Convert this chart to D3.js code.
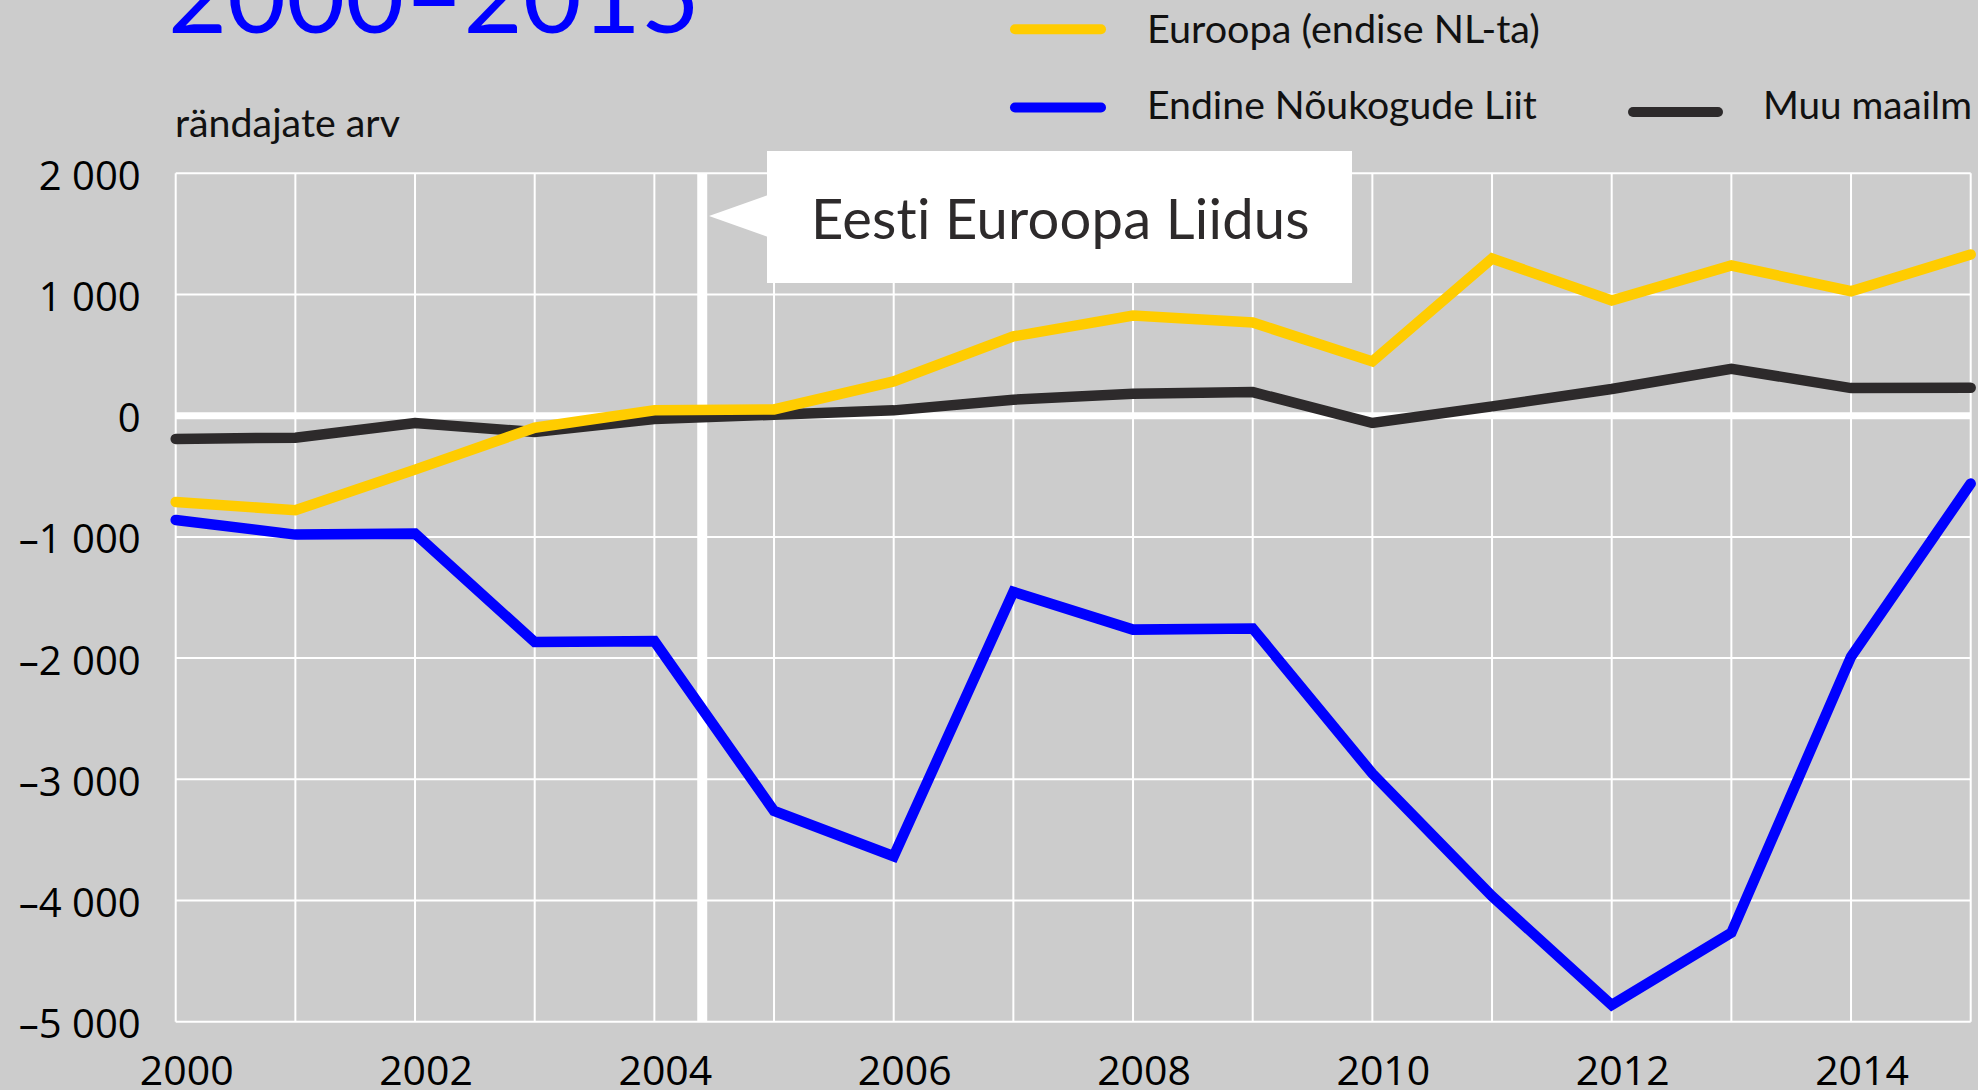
<!DOCTYPE html>
<html>
<head>
<meta charset="utf-8">
<script src="https://cdn.jsdelivr.net/npm/d3@7"></script>
<style>
html, body { margin: 0; padding: 0; background: #cccccc; overflow: hidden; }
svg { display: block; }
text { font-variant-ligatures: none; font-feature-settings: "liga" 0, "clig" 0, "dlig" 0; }
</style>
</head>
<body>
<script>
// ---- data ----
const years = [2000, 2001, 2002, 2003, 2004, 2005, 2006, 2007, 2008, 2009, 2010, 2011, 2012, 2013, 2014, 2015];
const europe = [-712, -780, -445, -99, 44, 52, 283, 654, 827, 769, 448, 1297, 951, 1239, 1027, 1330];
const formerUSSR = [-860, -981, -973, -1868, -1860, -3261, -3635, -1453, -1765, -1755, -2953, -3964, -4863, -4266, -1989, -560];
const restOfWorld = [-192, -181, -60, -135, -27, 8, 44, 132, 181, 195, -60, 77, 220, 387, 228, 231];
const yTicks = [2000, 1000, 0, -1000, -2000, -3000, -4000, -5000];
const yTickLabels = ["2 000", "1 000", "0", "–1 000", "–2 000", "–3 000", "–4 000", "–5 000"];
const xTicks = [2000, 2002, 2004, 2006, 2008, 2010, 2012, 2014];
const xTickLabels = ["2000", "2002", "2004", "2006", "2008", "2010", "2012", "2014"];
const seriesNames = ["Euroopa (endise NL-ta)", "Endine Nõukogude Liit", "Muu maailm"];
const seriesColors = ["#ffcc00", "#0000ff", "#2d2a2b"];
const titleText = "2000–2015";
const yAxisTitle = "rändajate arv";
const euAccession = 2004.4;
const annotationText = "Eesti Euroopa Liidus";

const W = 1978, H = 1090;
const svg = d3.select("body").append("svg").attr("width", W).attr("height", H);
svg.append("rect").attr("width", W).attr("height", H).attr("fill", "#cccccc");

const x = d3.scaleLinear().domain([2000, 2015]).range([175.7, 1970.7]);
const y = d3.scaleLinear().domain([-5000, 2000]).range([1021.7, 173.3]);

function fit(sel, target) {
  const w = sel.node().getComputedTextLength();
  const fs = parseFloat(sel.attr("font-size"));
  sel.attr("font-size", fs * target / w);
}

// title (cut off at top)
const t = svg.append("text").attr("x", 168).attr("y", 33)
  .attr("font-family", "Lato").attr("font-size", 107).attr("fill", "#0000ff").text(titleText);
fit(t, 532);

// y axis title
const ya = svg.append("text").attr("x", 175).attr("y", 137)
  .attr("font-family", "Lato").attr("font-size", 31).attr("fill", "#111").text(yAxisTitle);
fit(ya, 225);

// grid
const grid = svg.append("g");
grid.selectAll("line.h").data(yTicks.filter(d => d !== 0)).join("line")
  .attr("x1", x(2000)).attr("x2", x(2015))
  .attr("y1", d => y(d)).attr("y2", d => y(d))
  .attr("stroke", "#fff").attr("stroke-width", 2);
grid.selectAll("line.v").data(years).join("line")
  .attr("x1", d => x(d)).attr("x2", d => x(d))
  .attr("y1", y(2000)).attr("y2", y(-5000))
  .attr("stroke", "#fff").attr("stroke-width", 2);
grid.append("line").attr("x1", x(2000)).attr("x2", x(2015))
  .attr("y1", y(0)).attr("y2", y(0)).attr("stroke", "#fff").attr("stroke-width", 7);

// EU accession line
svg.append("line").attr("x1", x(euAccession)).attr("x2", x(euAccession))
  .attr("y1", y(2000)).attr("y2", y(-5000)).attr("stroke", "#fff").attr("stroke-width", 10);

// y labels
svg.append("g").selectAll("text").data(yTicks).join("text")
  .attr("x", 140.7).attr("y", d => y(d) + 16.5)
  .attr("text-anchor", "end").attr("font-family", "Open Sans").attr("font-size", 40)
  .attr("fill", "#000").text((d, i) => yTickLabels[i]);

// x labels
svg.append("g").selectAll("text").data(xTicks).join("text")
  .attr("x", d => x(d) + 11).attr("y", 1085)
  .attr("text-anchor", "middle").attr("font-family", "Open Sans").attr("font-size", 41)
  .attr("fill", "#000").text((d, i) => xTickLabels[i]);

// lines
const line = d3.line().x((d, i) => x(years[i])).y(d => y(d));
const order = [formerUSSR, restOfWorld, europe];
const orderColors = [seriesColors[1], seriesColors[2], seriesColors[0]];
order.forEach((s, k) => {
  svg.append("path").datum(s).attr("d", line).attr("fill", "none")
    .attr("stroke", orderColors[k]).attr("stroke-width", 10.5)
    .attr("stroke-linecap", "round").attr("stroke-linejoin", "miter");
});

// annotation
svg.append("rect").attr("x", 767).attr("y", 151).attr("width", 585).attr("height", 132).attr("fill", "#fff");
svg.append("polygon").attr("points", "768,195 709,216 768,237").attr("fill", "#fff");
const an = svg.append("text").attr("x", 811).attr("y", 239)
  .attr("font-family", "Lato").attr("font-size", 53).attr("letter-spacing", 0.2)
  .attr("fill", "#2d2a2b").text(annotationText);
fit(an, 499);

// legend
const legend = [
  { i: 0, x1: 1015, x2: 1101, ly: 29.3, tx: 1147, ty: 42.7, w: 393 },
  { i: 1, x1: 1015, x2: 1101, ly: 107.5, tx: 1147, ty: 119, w: 390 },
  { i: 2, x1: 1633, x2: 1718, ly: 112, tx: 1763, ty: 119, w: 209 }
];
legend.forEach(l => {
  svg.append("line").attr("x1", l.x1).attr("x2", l.x2).attr("y1", l.ly).attr("y2", l.ly)
    .attr("stroke", seriesColors[l.i]).attr("stroke-width", 10).attr("stroke-linecap", "round");
  const tt = svg.append("text").attr("x", l.tx).attr("y", l.ty)
    .attr("font-family", "Lato").attr("font-size", 36).attr("fill", "#111").text(seriesNames[l.i]);
  fit(tt, l.w);
});
</script>
</body>
</html>
